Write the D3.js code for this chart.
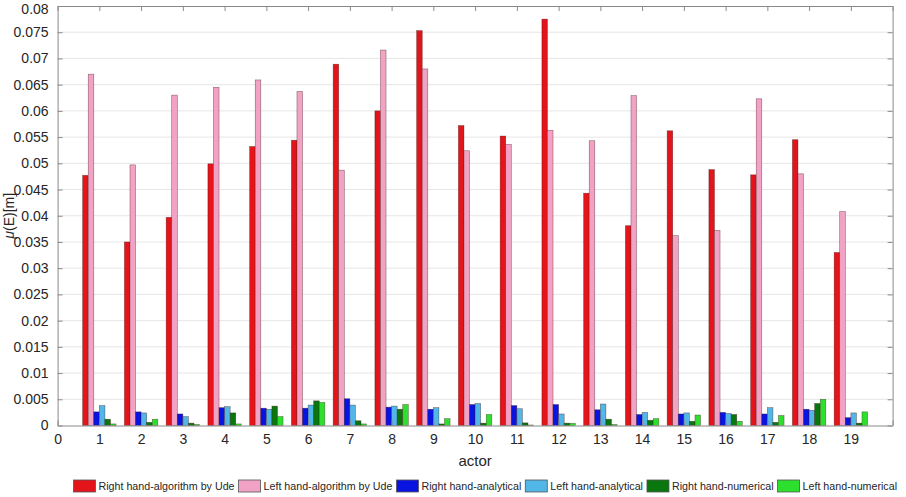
<!DOCTYPE html>
<html><head><meta charset="utf-8">
<script src="https://cdn.jsdelivr.net/npm/d3@7/dist/d3.min.js"></script>
<style>body{margin:0;background:#fff}svg{display:block;font-family:"Liberation Sans",Arial,sans-serif}</style>
</head><body><svg id="c" width="906" height="497"></svg>
<script>
const actors = [1,2,3,4,5,6,7,8,9,10,11,12,13,14,15,16,17,18,19];
const seriesNames = ["Right hand-algorithm by Ude","Left hand-algorithm by Ude","Right hand-analytical","Left hand-analytical","Right hand-numerical","Left hand-numerical"];
const seriesColors = ["#e3141a","#f2a2c4","#0a14e0","#52b6e6","#0a760e","#2ee02e"];
const rightUde = [0.0477,0.0350,0.0397,0.0499,0.0532,0.0544,0.0689,0.0600,0.0753,0.0572,0.0552,0.0775,0.0443,0.0381,0.0562,0.0488,0.0478,0.0545,0.0330];
const leftUde  = [0.0670,0.0497,0.0630,0.0645,0.0659,0.0637,0.0487,0.0716,0.0680,0.0524,0.0536,0.0563,0.0543,0.0629,0.0362,0.0372,0.0623,0.0480,0.0408];
const rightAnalytical = [0.0026,0.0026,0.0022,0.0034,0.0033,0.0033,0.0051,0.0035,0.0031,0.0040,0.0038,0.0040,0.0030,0.0021,0.0022,0.0025,0.0022,0.0031,0.0015];
const leftAnalytical  = [0.0038,0.0024,0.0017,0.0036,0.0031,0.0039,0.0039,0.0037,0.0034,0.0042,0.0032,0.0022,0.0041,0.0025,0.0024,0.0023,0.0034,0.0029,0.0024];
const rightNumerical  = [0.0012,0.0006,0.00045,0.0024,0.0037,0.0047,0.0009,0.0031,0.0003,0.00045,0.0005,0.00045,0.0012,0.0010,0.0008,0.0021,0.0006,0.0042,0.00045];
const leftNumerical   = [0.0003,0.0012,0.0002,0.0003,0.0017,0.0044,0.0003,0.0040,0.0013,0.0021,0.0001,0.0004,0.0002,0.0013,0.0020,0.0008,0.0019,0.0050,0.0026];
const yTicks = [0,0.005,0.01,0.015,0.02,0.025,0.03,0.035,0.04,0.045,0.05,0.055,0.06,0.065,0.07,0.075,0.08];
const xTicks = d3.range(0,21);
const xTickLabels = ["0","1","2","3","4","5","6","7","8","9","10","11","12","13","14","15","16","17","18","19",""];
const series = [rightUde,leftUde,rightAnalytical,leftAnalytical,rightNumerical,leftNumerical];

const svg = d3.select("#c");
const L=57.6, R=892.6, T=6, B=425.5;
const x = d3.scaleLinear().domain([0,20]).range([L,R]);
const y = d3.scaleLinear().domain([0,0.08]).range([B,T]);
const textCol="#262626", axisCol="#8a8a8a";

// grid
svg.append("g").selectAll("line").data(yTicks.slice(1,-1)).join("line")
  .attr("x1",L).attr("x2",R).attr("y1",d=>y(d)).attr("y2",d=>y(d))
  .attr("stroke","#e6e6e6").attr("stroke-width",1);

// bars
const step = x(1)-x(0);
const bw = step*0.8/6;
const inner = d3.scaleBand().domain(d3.range(6)).range([-bw*3,bw*3]).padding(0);
series.forEach((vals,si)=>{
  svg.append("g").selectAll("rect").data(vals).join("rect")
    .attr("x",(d,i)=>x(actors[i])+inner(si))
    .attr("width",inner.bandwidth())
    .attr("y",d=>y(d)).attr("height",d=>y(0)-y(d))
    .attr("fill",seriesColors[si]).attr("stroke","#3a1010").attr("stroke-opacity",0.55).attr("stroke-width",0.6);
});

// axes
const axB = svg.append("g").attr("transform",`translate(0,${B})`)
  .call(d3.axisBottom(x).tickValues(xTicks).tickFormat((d,i)=>xTickLabels[i]).tickSizeInner(-5).tickSizeOuter(0).tickPadding(9));
const axT = svg.append("g").attr("transform",`translate(0,${T})`)
  .call(d3.axisTop(x).tickValues(xTicks).tickFormat("").tickSizeInner(-5).tickSizeOuter(0));
const axL = svg.append("g").attr("transform",`translate(${L},0)`)
  .call(d3.axisLeft(y).tickValues(yTicks).tickFormat(d=>d===0?"0":String(+d.toFixed(3))).tickSizeInner(-5).tickSizeOuter(0).tickPadding(9));
const axR = svg.append("g").attr("transform",`translate(${R},0)`)
  .call(d3.axisRight(y).tickValues(yTicks).tickFormat("").tickSizeInner(-5).tickSizeOuter(0));
[axB,axT,axL,axR].forEach(a=>{
  a.select(".domain").attr("stroke",axisCol);
  a.selectAll(".tick line").attr("stroke",axisCol);
  a.selectAll("text").attr("fill",textCol).style("font-size","14px").style("font-family","'Liberation Sans',Arial,sans-serif");
});
axL.selectAll(".tick text").filter(d=>d===0.08).attr("dy","0.55em");

// x label
svg.append("text").attr("x",(L+R)/2).attr("y",466).attr("text-anchor","middle")
  .attr("fill",textCol).style("font-size","15px").text("actor");
// y label
const yl = svg.append("text").attr("transform",`translate(14,${(T+B)/2}) rotate(-90)`).attr("text-anchor","middle")
  .attr("fill",textCol).style("font-size","14px");
yl.append("tspan").style("font-style","italic").text("μ");
yl.append("tspan").text("(E)[m]");

// legend
const lg = svg.append("g");
let lx = 73.5;
const ly = 486;
seriesNames.forEach((name,i)=>{
  lg.append("rect").attr("x",lx).attr("y",ly-6).attr("width",22).attr("height",12)
    .attr("fill",seriesColors[i]).attr("stroke","#555").attr("stroke-width",0.8);
  const t = lg.append("text").attr("x",lx+25).attr("y",ly+4).attr("fill",textCol)
    .style("font-size","10.7px").text(name);
  const w = t.node().getComputedTextLength();
  lx += 25 + w + 4;
});
</script></body></html>
